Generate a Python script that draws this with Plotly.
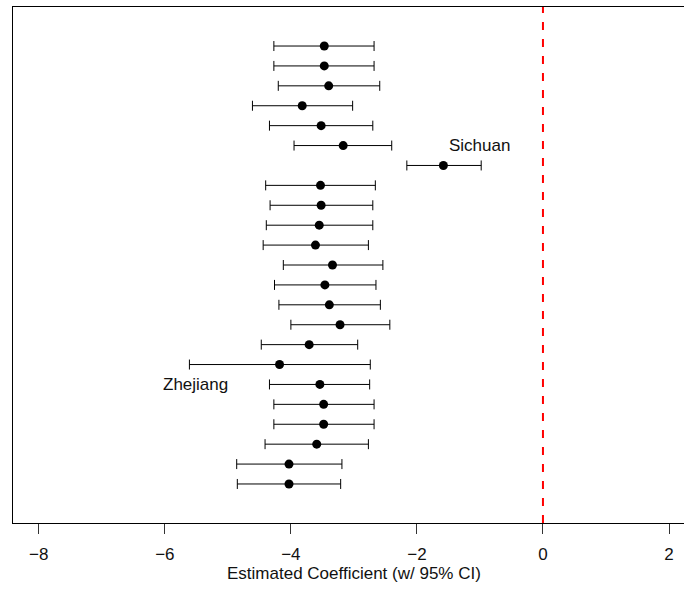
import plotly.graph_objects as go

# Rows listed from top (row position 23) to bottom (row position 1)
row_pos = list(range(23, 0, -1))
estimate = [-3.47, -3.47, -3.40, -3.82, -3.52, -3.17, -1.58, -3.53, -3.52, -3.55,
            -3.61, -3.34, -3.46, -3.39, -3.22, -3.71, -4.18, -3.54, -3.48, -3.48,
            -3.59, -4.03, -4.03]
ci_lower = [-4.27, -4.27, -4.20, -4.61, -4.34, -3.95, -2.16, -4.40, -4.33, -4.39,
            -4.44, -4.12, -4.26, -4.19, -4.00, -4.47, -5.61, -4.34, -4.27, -4.27,
            -4.41, -4.86, -4.85]
ci_upper = [-2.68, -2.68, -2.59, -3.02, -2.70, -2.40, -0.98, -2.66, -2.70, -2.70,
            -2.77, -2.54, -2.65, -2.58, -2.43, -2.94, -2.74, -2.75, -2.68, -2.68,
            -2.77, -3.19, -3.21]

label_text = ["Sichuan", "Zhejiang"]
label_x = [-1.01, -5.51]
label_y = [18, 6]

x_ticks = [-8, -6, -4, -2, 0, 2]
x_title = "Estimated Coefficient (w/ 95% CI)"

FONT = "Liberation Sans, Arial, Helvetica, sans-serif"

err_plus = [u - e for u, e in zip(ci_upper, estimate)]
err_minus = [e - l for e, l in zip(estimate, ci_lower)]

fig = go.Figure()
fig.add_trace(go.Scatter(
    x=estimate, y=row_pos, mode="markers",
    marker=dict(color="black", size=9),
    error_x=dict(type="data", symmetric=False, array=err_plus, arrayminus=err_minus,
                 color="black", thickness=1, width=5),
    showlegend=False, hoverinfo="x+y",
))

fig.add_shape(type="line", xref="x", yref="paper", x0=0, x1=0, y0=0, y1=1,
              line=dict(color="red", width=2, dash="8px,9px"))

for t, lx, ly in zip(label_text, label_x, label_y):
    fig.add_annotation(x=lx, y=ly, xref="x", yref="y", text=t, showarrow=False,
                       font=dict(family=FONT, size=17, color="#111111"),
                       xanchor="center", yanchor="middle")

fig.add_annotation(x=-3, y=-0.097, xref="x", yref="paper", text=x_title,
                   showarrow=False, font=dict(family=FONT, size=17, color="#111111"),
                   xanchor="center", yanchor="middle")

fig.update_layout(
    width=684, height=598,
    margin=dict(l=13, r=0, t=7, b=75),
    paper_bgcolor="white", plot_bgcolor="white",
    font=dict(family=FONT, size=17, color="#111111"),
)
fig.update_xaxes(
    range=[-8.4095, 2.238], tickvals=x_ticks, ticks="outside", ticklen=10,
    tickcolor="#333333", tickwidth=1, showgrid=False, zeroline=False,
    showline=True, linecolor="black", linewidth=1, mirror=True,
    ticklabelstandoff=6,
    tickfont=dict(family=FONT, size=17, color="#111111"),
)
fig.update_yaxes(
    range=[-0.96, 24.96], showticklabels=False, ticks="", showgrid=False,
    zeroline=False, showline=True, linecolor="black", linewidth=1, mirror=False,
)

fig.write_html("out.html",
               config={"displayModeBar": False},
               post_script="document.body.style.margin='0';document.body.style.padding='0';")
